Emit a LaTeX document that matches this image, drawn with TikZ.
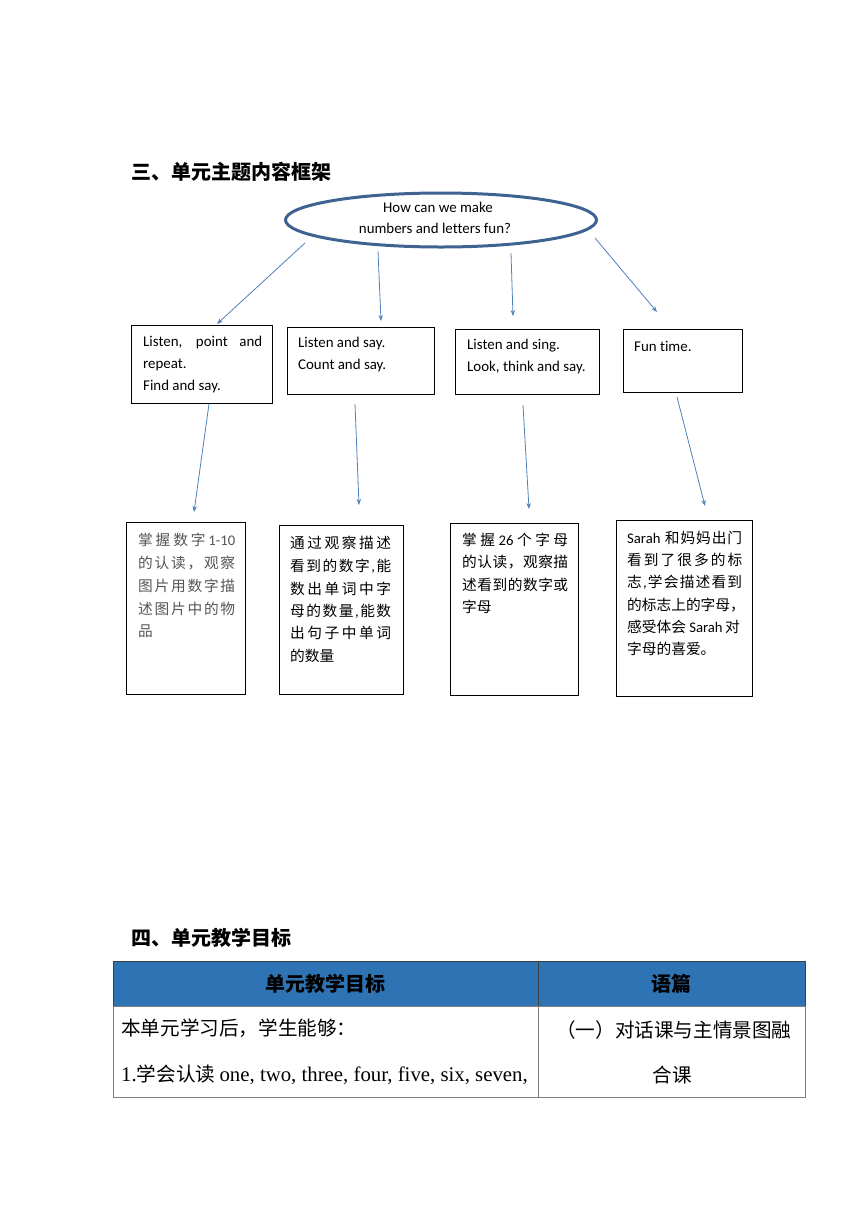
\documentclass[tikz,border=0pt]{standalone}
\usepackage{fontspec}
\setmainfont{Noto Sans CJK SC}
\newfontfamily\enf{Carlito}[Ligatures=NoCommon]
\newfontfamily\tms{Liberation Serif}
\usetikzlibrary{shapes.geometric,arrows.meta}
\definecolor{ellblue}{HTML}{3F6391}
\definecolor{arrblue}{HTML}{4F81BD}
\definecolor{hdrblue}{HTML}{2E74B5}
\definecolor{cgray}{HTML}{555555}
\makeatletter
\newcommand\jl[2]{\hbox to #1pt{\jl@first#2\jl@stop}}
\def\jl@first#1{{#1}\jl@next}
\def\jl@next#1{\def\jl@tmp{#1}\ifx\jl@tmp\jl@stopm\else\hskip 0pt plus 1fil{#1}\expandafter\jl@next\fi}
\def\jl@stopm{\jl@stop}
\makeatother
\tikzset{
  x=1pt,y=-1pt,
  box/.style={draw=black, line width=0.9pt, fill=none, inner sep=0pt, outer sep=0pt},
  entxt/.style={anchor=west, inner sep=0pt, font=\enf\fontsize{14.9}{16}\selectfont},
  zhtxt/.style={anchor=west, inner sep=0pt, font=\fontsize{14.7}{16}\selectfont},
  head/.style={anchor=west, inner sep=0pt, font=\fontsize{20}{22}\selectfont\bfseries},
  conn/.style={draw=arrblue, line width=0.8pt, -{Stealth[length=6pt,width=4.5pt]}},
  cellh/.style={draw=black!75, line width=0.8pt, fill=hdrblue, inner sep=0pt},
  cellb/.style={draw=black!50, line width=0.8pt, inner sep=0pt},
  tbtxt/.style={anchor=west, inner sep=0pt, font=\fontsize{19.6}{22}\selectfont},
}
\begin{document}
\begin{tikzpicture}
\useasboundingbox (0,0) rectangle (860,1216);
\fill[white] (0,0) rectangle (860,1216);

% heading 1
\node[head] (t1) at (131,172) {三、单元主题内容框架};

% ellipse
\node[ellipse, draw=ellblue, line width=3pt, minimum width=311, minimum height=54, inner sep=0pt] (q) at (441,220) {};
\node[entxt, anchor=center] (q1) at (438,207) {How can we make};
\node[entxt, anchor=center] (q2) at (435,228) {numbers and letters fun?};

% row 1 boxes
\node[box, minimum width=141, minimum height=78] (b1) at (201.5,364) {};
\node[box, minimum width=147, minimum height=67] (b2) at (360.5,360.5) {};
\node[box, minimum width=144, minimum height=65] (b3) at (527,361.5) {};
\node[box, minimum width=119, minimum height=63] (b4) at (682.5,360.5) {};

\node[entxt] (b1a) at (143,343) {\makebox[119pt][s]{Listen, point and}};
\node[entxt] (b1b) at (143,365) {repeat.};
\node[entxt] (b1c) at (143,387) {Find and say.};
\node[entxt] (b2a) at (298,344) {Listen and say.};
\node[entxt] (b2b) at (298,366) {Count and say.};
\node[entxt] (b3a) at (467,346) {Listen and sing.};
\node[entxt] (b3b) at (467,368) {Look, think and say.};
\node[entxt] (b4a) at (634,346) {Fun time.};

% arrows ellipse -> row1
\coordinate (a1s) at (305,243); \coordinate (a1e) at (217,324);
\coordinate (a2s) at (378,251); \coordinate (a2e) at (381,321);
\coordinate (a3s) at (511,253); \coordinate (a3e) at (513,316);
\coordinate (a4s) at (595,238); \coordinate (a4e) at (657,312);
\draw[conn] (a1s) -- (a1e);
\draw[conn] (a2s) -- (a2e);
\draw[conn] (a3s) -- (a3e);
\draw[conn] (a4s) -- (a4e);

% arrows row1 -> row2
\coordinate (c1s) at (209,404); \coordinate (c1e) at (194,512);
\coordinate (c2s) at (355,404); \coordinate (c2e) at (359,505);
\coordinate (c3s) at (523,405); \coordinate (c3e) at (529,509);
\coordinate (c4s) at (677,397); \coordinate (c4e) at (705,506);
\draw[conn] (c1s) -- (c1e);
\draw[conn] (c2s) -- (c2e);
\draw[conn] (c3s) -- (c3e);
\draw[conn] (c4s) -- (c4e);

% row 2 boxes
\node[box, minimum width=119, minimum height=172] (d1) at (185.5,608) {};
\node[box, minimum width=124, minimum height=169] (d2) at (341,609.5) {};
\node[box, minimum width=128, minimum height=172] (d3) at (514,609) {};
\node[box, minimum width=136, minimum height=176] (d4) at (684,608) {};

% box d1 text
\begin{scope}[every node/.append style={text=cgray}]
\node[zhtxt] (d1a) at (138,540) {\jl{97}{掌握数字{\enf 1-10}}};
\node[zhtxt] (d1b) at (138,563) {\jl{97}{的认读，观察}};
\node[zhtxt] (d1c) at (138,586) {\jl{97}{图片用数字描}};
\node[zhtxt] (d1d) at (138,609) {\jl{97}{述图片中的物}};
\node[zhtxt] (d1e) at (138,631) {品};
\end{scope}
% box d2 text
\node[zhtxt] (d2a) at (290,543) {\jl{101}{通过观察描述}};
\node[zhtxt] (d2b) at (290,566) {\jl{101}{看到的数字{\enf,}能}};
\node[zhtxt] (d2c) at (290,589) {\jl{101}{数出单词中字}};
\node[zhtxt] (d2d) at (290,611) {\jl{101}{母的数量{\enf,}能数}};
\node[zhtxt] (d2e) at (290,633) {\jl{101}{出句子中单词}};
\node[zhtxt] (d2f) at (290,656) {的数量};
% box d3 text
\node[zhtxt] (d3a) at (462,540) {\jl{106}{掌握{\enf 26}个字母}};
\node[zhtxt] (d3b) at (462,562) {\jl{106}{的认读，观察描}};
\node[zhtxt] (d3c) at (462,585) {\jl{106}{述看到的数字或}};
\node[zhtxt] (d3d) at (462,607) {字母};
% box d4 text
\node[zhtxt] (d4a) at (627,538) {\jl{115}{{\enf Sarah\ }和妈妈出门}};
\node[zhtxt] (d4b) at (627,560) {\jl{115}{看到了很多的标}};
\node[zhtxt] (d4c) at (627,582) {\jl{115}{志{\enf,}学会描述看到}};
\node[zhtxt] (d4d) at (627,605) {的标志上的字母，};
\node[zhtxt] (d4e) at (627,627) {感受体会{\enf\ Sarah\,}对};
\node[zhtxt] (d4f) at (627,649) {字母的喜爱。};

% heading 2
\node[head] (t2) at (131,938) {四、单元教学目标};

% table
\node[cellh, minimum width=425, minimum height=45] (h1) at (325.5,983.5) {};
\node[cellh, minimum width=267, minimum height=45] (h2) at (671.5,983.5) {};
\node[cellb, minimum width=425, minimum height=91] (r1) at (325.5,1051.5) {};
\node[cellb, minimum width=267, minimum height=91] (r2) at (671.5,1051.5) {};
\node[tbtxt, anchor=center, font=\fontsize{20}{22}\selectfont\bfseries] (h1t) at (h1) {单元教学目标};
\node[tbtxt, anchor=center, font=\fontsize{20}{22}\selectfont\bfseries] (h2t) at (h2) {语篇};
\node[tbtxt] (r1a) at (121,1028) {本单元学习后，学生能够：};
\node[tbtxt] (r1b) at (121,1075) {{\tms\fontsize{20.8}{22}\selectfont 1.}学会认读 {\tms\fontsize{20.8}{22}\selectfont one, two, three, four, five, six, seven,}};
\node[tbtxt] (r2a) at (556,1030) {（一）对话课与主情景图融};
\node[tbtxt, anchor=center] (r2b) at (672,1075) {合课};
\end{tikzpicture}
\end{document}
